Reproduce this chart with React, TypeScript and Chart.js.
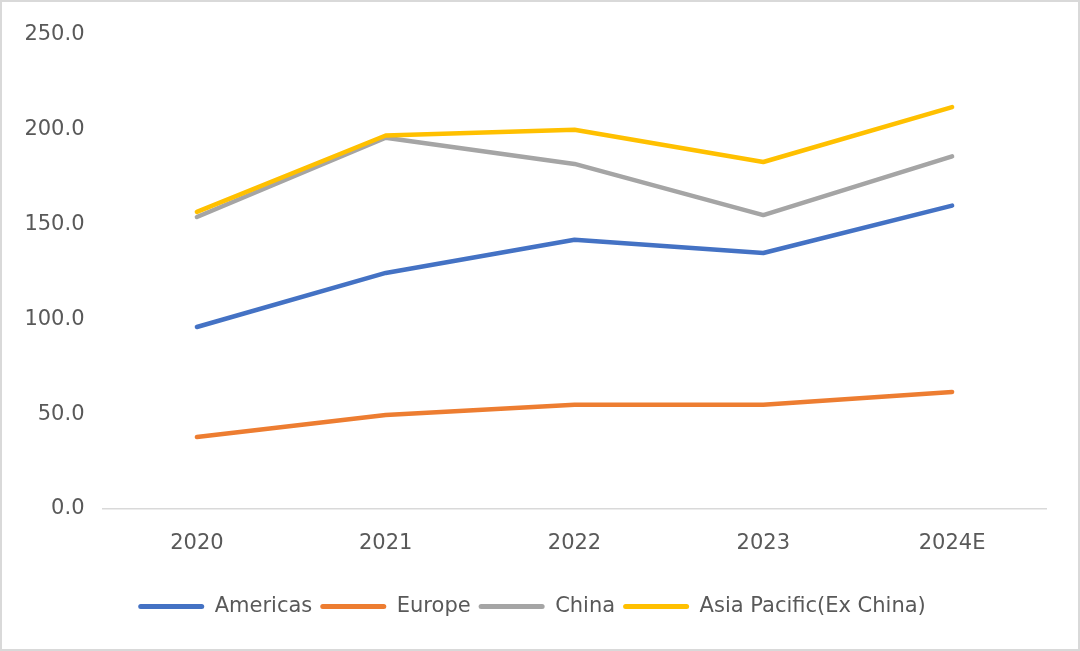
import React, { useEffect, useRef } from "react";
import { Chart, registerables } from "chart.js";

Chart.register(...registerables);

const categories = ["2020", "2021", "2022", "2023", "2024E"];
const americas = [96, 124.5, 142, 135, 160];
const europe = [38, 49.6, 55, 55, 61.7];
const china = [154, 195.8, 182, 155, 186];
const asiaPacific = [156.7, 197, 200, 183, 212];
const yTicks = [0, 50, 100, 150, 200, 250];

const seriesNames = ["Americas", "Europe", "China", "Asia Pacific(Ex China)"];
const seriesColors = ["#4472C4", "#ED7D31", "#A5A5A5", "#FFC000"];

const FONT = "'DejaVu Sans', sans-serif";

export default function App() {
  const ref = useRef<HTMLCanvasElement | null>(null);
  useEffect(() => {
    document.body.style.margin = "0";
    const ctx = ref.current!;
    const values = [americas, europe, china, asiaPacific];
    const chart = new Chart(ctx, {
      type: "line",
      data: {
        labels: categories,
        datasets: values.map((d, i) => ({
          label: seriesNames[i],
          data: d,
          borderColor: seriesColors[i],
          backgroundColor: seriesColors[i],
          borderWidth: 4.5,
          pointRadius: 0,
          pointHoverRadius: 0,
          tension: 0,
          borderCapStyle: "round" as const,
          borderJoinStyle: "round" as const,
          order: 3 - i,
        })),
      },
      options: {
        animation: false,
        responsive: false,
        maintainAspectRatio: false,
        layout: { padding: { left: 15.5, right: 31.5, top: 33, bottom: 22 } },
        plugins: {
          tooltip: { enabled: false },
          legend: {
            position: "bottom",
            labels: {
              boxWidth: 66,
              boxHeight: 5,
              padding: 8,
              color: "#595959",
              font: { family: FONT, size: 21 },
              sort: (a: any, b: any) => a.datasetIndex - b.datasetIndex,
              generateLabels: (c: any) =>
                Chart.defaults.plugins.legend.labels
                  .generateLabels(c)
                  .map((it: any) => ({ ...it, lineWidth: 0, borderRadius: 2.5 })),
            },
          },
        },
        scales: {
          x: {
            offset: true,
            afterFit: (s: any) => {
              s.height = 79;
            },
            grid: { display: false, drawTicks: false, offset: true },
            border: { display: true, color: "#D9D9D9", width: 1.5 },
            ticks: {
              color: "#595959",
              padding: 22,
              font: { family: FONT, size: 21 },
            },
          },
          y: {
            min: 0,
            max: 250,
            afterFit: (s: any) => {
              s.width = 85;
            },
            afterBuildTicks: (s: any) => {
              s.ticks = yTicks.map((v) => ({ value: v }));
            },
            grid: { display: false, drawTicks: false },
            border: { display: false },
            ticks: {
              color: "#595959",
              padding: 18,
              callback: (v: any) => Number(v).toFixed(1),
              font: { family: FONT, size: 21 },
            },
          },
        },
      },
    });
    return () => chart.destroy();
  }, []);
  return (
    <div
      style={{
        position: "fixed",
        left: 0,
        top: 0,
        width: 1080,
        height: 651,
        boxSizing: "border-box",
        border: "2px solid #D9D9D9",
        background: "#fff",
      }}
    >
      <canvas ref={ref} width={1076} height={647} style={{ display: "block" }} />
    </div>
  );
}
